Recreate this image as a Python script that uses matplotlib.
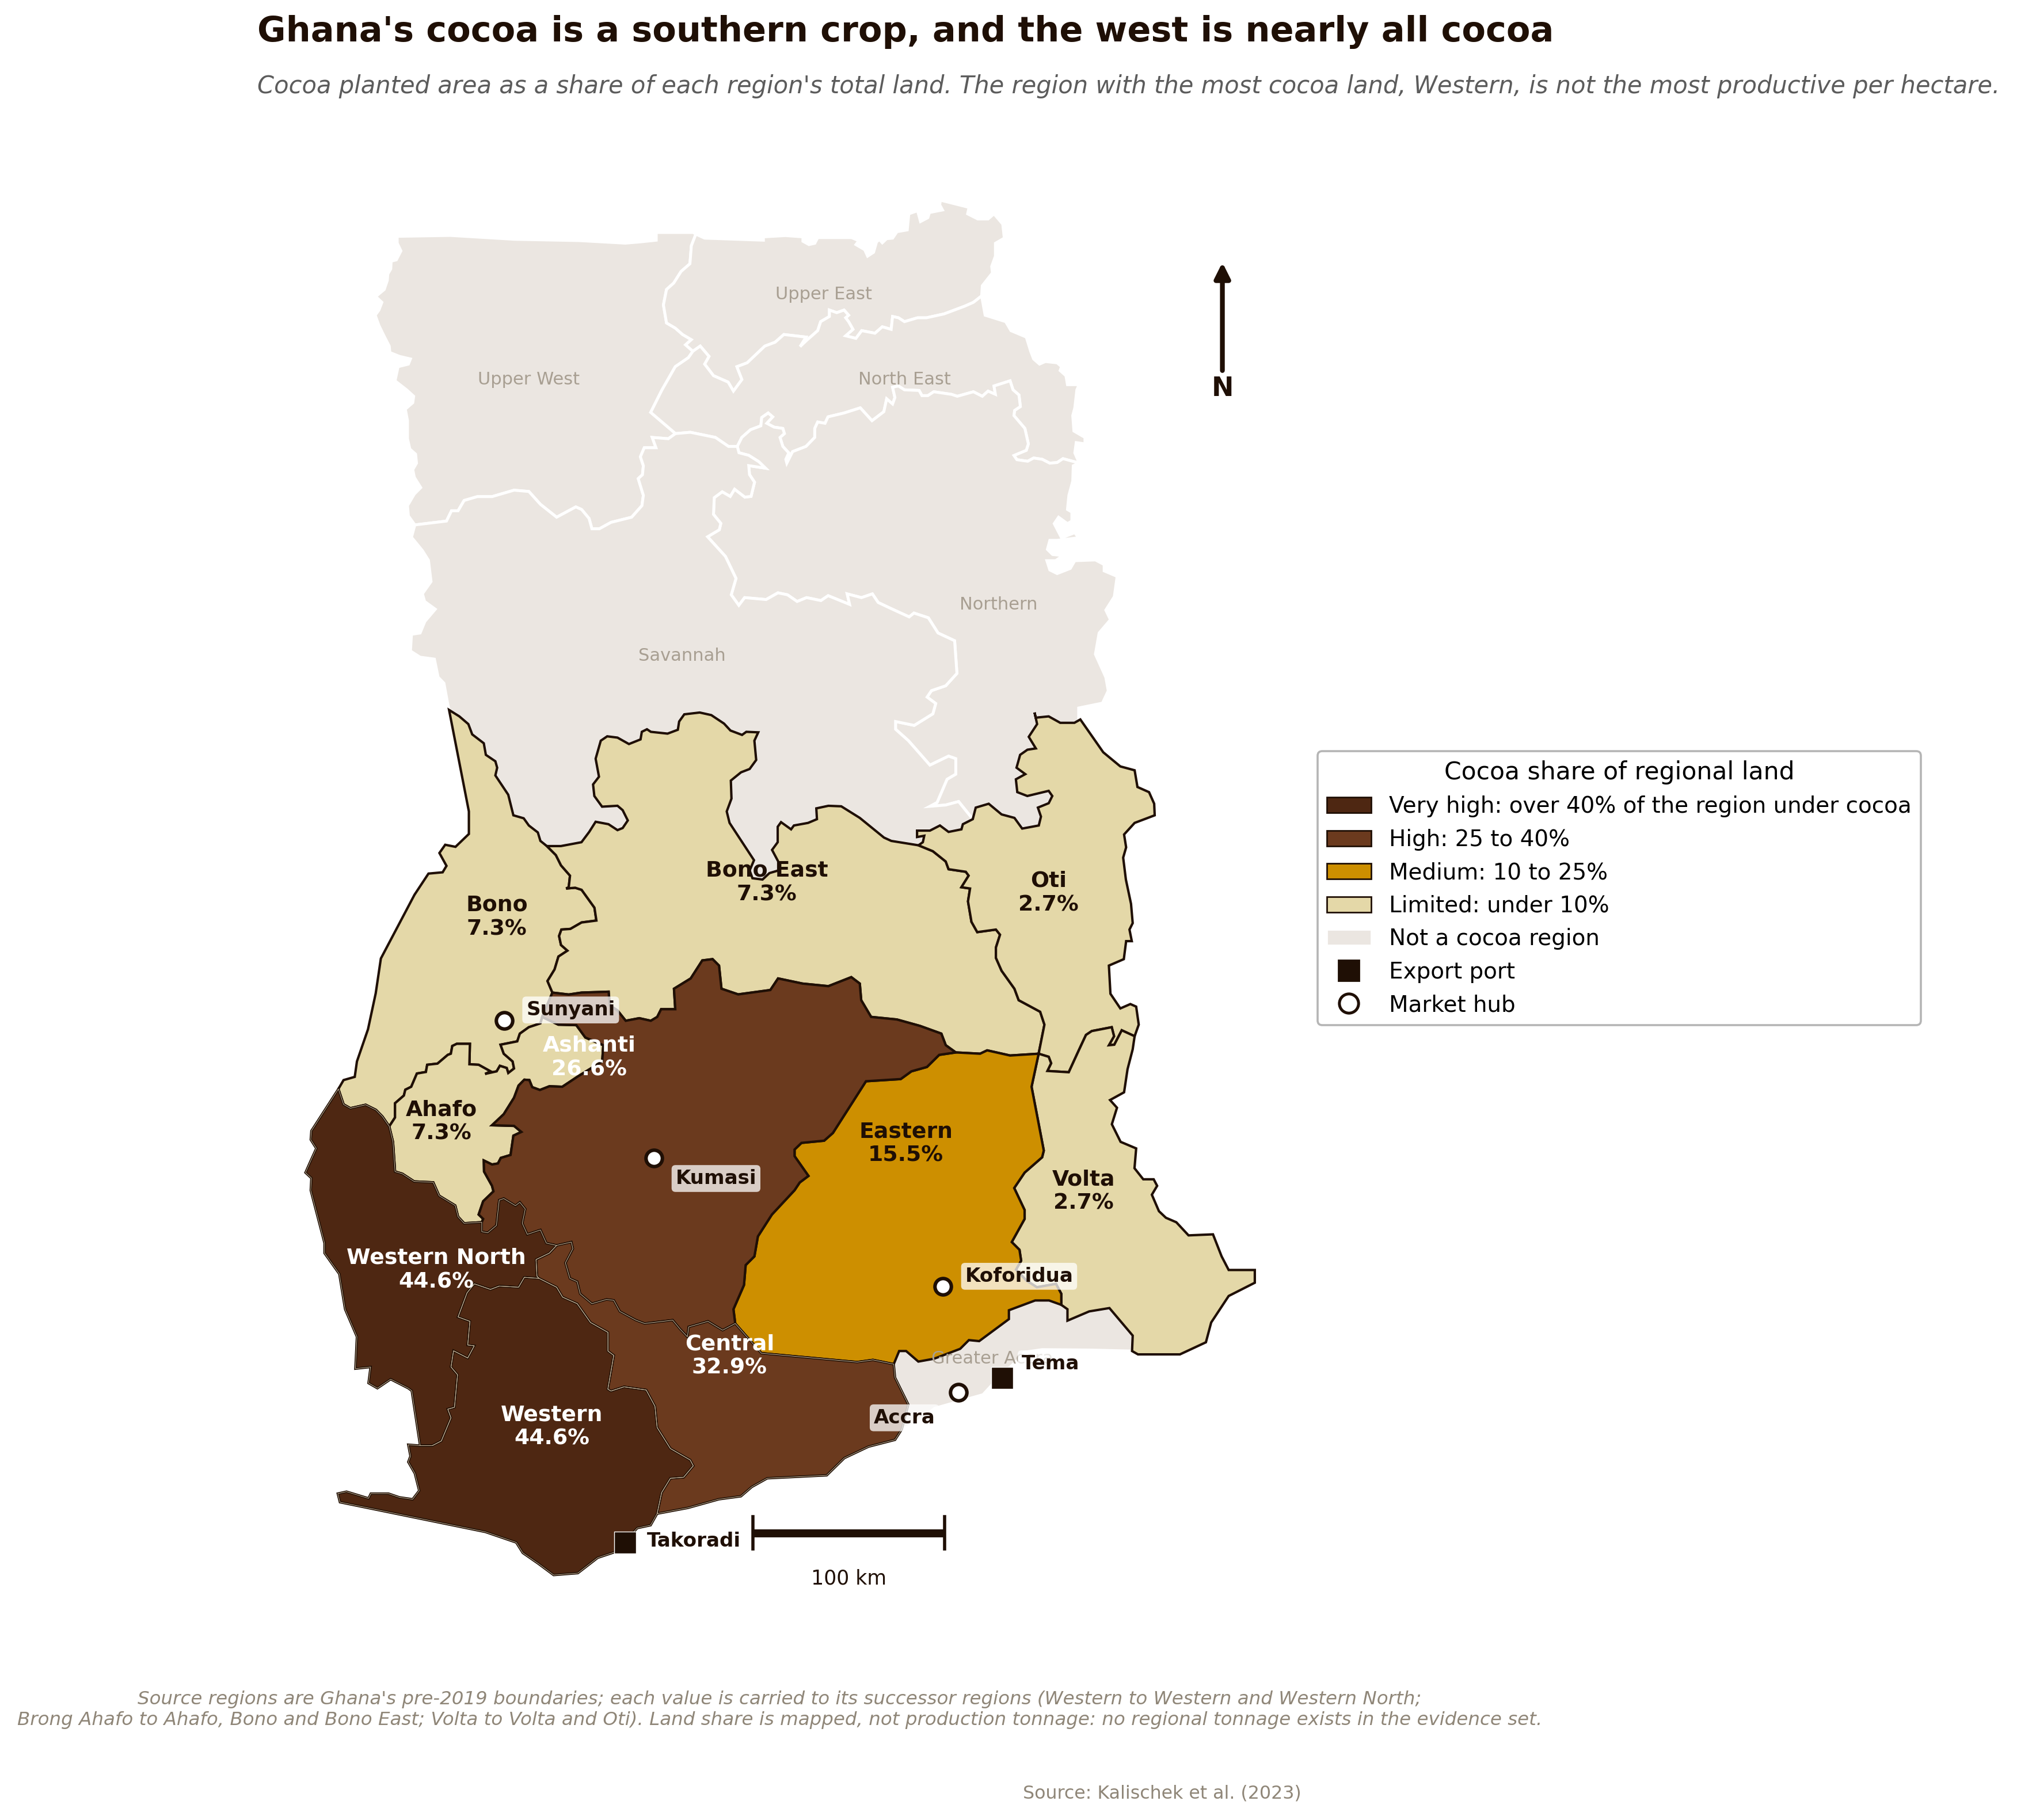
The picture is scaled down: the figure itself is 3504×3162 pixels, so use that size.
import matplotlib
matplotlib.use("Agg")
import matplotlib.pyplot as plt
from matplotlib.patches import Patch, Polygon
from matplotlib.lines import Line2D

# boundary pieces in map units (y grows southward)
uw_outer = [(322.4,408),(317.4,401),(316.7,393),(322,384),(327,379),(322,371),(320.8,365),(323.7,360),(323,353),(318.5,349),(316.7,341),(316.7,327),(315,318),(320.8,313),(321.5,308),(316,303),(307,296),(309.4,285),(317.4,283),(319,279),(310.5,277),(303,274),(302.5,269),(298.4,261),(294.5,253),(291.6,245),(294.5,241),(296.8,235),(292,230.5),(298.6,225),(301,218),(301.4,213),(303.7,209),(304,203),(308,202),(311.6,195),(308.7,189),(308.7,183.7),(350,183),(400,186),(450,187),(486,189),(497.7,188),(510,186.7),(510,180.7),(538.8,180.7)]
uw_ue = [(540.8,182),(537.3,191),(536.2,205),(529.3,211),(523.6,220),(518,225),(515.6,237),(518,251),(524.8,255),(530.5,260),(537.3,264),(532.8,268),(538.5,273)]
uw_ne = [(538.5,273),(535,278),(524.8,285),(514.5,303),(505.7,320.5),(525,337)]
uw_sav = [(525,337),(519.4,341),(506.9,340),(509.8,348),(500.7,348),(497.7,355),(500,362),(499.3,369),(496,372),(500,385),(498.9,393),(490.9,402),(474.9,406),(465.8,411),(460,411),(457.8,403),(452,396),(447.5,394),(432.6,402),(420,392),(411,382),(399.5,381),(382.4,386),(371,386),(360.7,389),(356,397),(350.9,397),(347,405),(322.4,408)]
ue_outer = [(540.8,182),(547.6,185.1),(593.3,186.7),(593.3,184.1),(610.4,183.1),(624,184.1),(624,187.5),(628.7,190.1),(633.2,189.1),(635.5,184.7),(661.8,184.7),(667.5,187.1),(665.2,190.1),(672,194.1),(674.3,199.1),(678.9,196.1),(681.2,188.1),(683.4,186.1),(685.7,188.7),(689.1,185.5),(693.7,185.1),(697.1,180.1),(705.1,178.7),(706.3,166.2),(713.1,163.8),(715.4,172.2),(721.1,169.2),(722.3,165.2),(732.5,163.2),(730.3,159.2),(730.9,155.6),(753.1,161.2),(752,166.2),(759.9,170.2),(767.9,170.2),(772.5,166.2),(779.3,174.2),(780.5,185.1),(773.6,189.1),(773.6,199.1),(770.7,207.1),(771.3,212.1),(763.4,222.1),(762.9,230)]
ue_ne = [(762.9,230),(756.5,235),(749.7,238),(733.7,244),(720,247),(713.1,247),(702.9,250),(698.3,247),(693.7,246),(692.6,256),(685.7,254),(680,259),(669.7,257),(665.2,263),(657.2,261),(662.9,256),(659.5,250),(657.2,247),(659.5,245),(656,241),(650.3,243),(644.6,241),(644.6,246),(637.8,250),(635.5,257),(626.4,265),(621.8,269.4),(626.4,262),(609.2,260),(602.4,266),(594.4,269),(580.7,282),(572.7,285),(576.6,295),(570,304),(565.9,297),(554.5,292),(547.6,283),(551,277),(544.2,269),(538.5,273)]
ne_outer = [(762.9,230),(765.6,245),(781.6,250),(785.7,257),(797.6,262),(801,273),(803.3,279),(807.9,283),(812.4,281),(821.6,282),(825,285),(823.9,288),(828.4,292),(829.6,299),(838.7,299),(836.9,303),(835.3,317),(833.7,323),(834.6,335),(843.2,340),(843.2,345),(836.4,344),(835.3,352),(838.7,359.9)]
ne_nor = [(573,347),(576.5,340),(583.3,334),(591.3,331),(592,324.5),(597,321),(600.5,324),(595.9,329),(601.6,332),(608.4,333),(609.6,337),(606.2,340),(608.4,347),(613,352),(610.7,357),(611.5,360),(616,351),(626.4,347),(633.2,340),(633.2,333),(635.5,328),(641.2,329),(643.5,324),(656,321),(668.6,317),(677.7,327),(686.9,320),(689.1,310),(693.7,314),(695.5,309),(693.7,301),(698.3,300),(702.9,303),(714.3,303.5),(716.5,307.5),(721.1,307.5),(725.7,304.5),(739.4,306.5),(744,308),(756.5,304.5),(763.4,308),(767.9,304),(773.6,306.5),(772.5,300),(785,296),(787.3,303),(791.9,307),(793,316),(788.5,319),(788,323),(796.5,333),(799.2,345),(797.6,350),(788,354),(790.3,357.3),(798.7,358.5),(803.3,356),(810,357),(815.8,360),(821.6,359.5),(826.1,356.5),(838.7,359.9)]
ne_sav = [(525,337),(536.5,336),(556,340),(566.2,347),(573,347)]
nor_outer = [(838.7,359.9),(834.1,362),(833.7,374),(830.7,385),(829.6,396),(833,398),(833,405),(829.6,407),(822.7,402),(819.3,407),(825,418),(835.3,414),(838.2,418),(821.6,420),(815.9,420),(814,427),(818.1,431),(826.1,431.8),(820.4,435.8),(813.6,435.8),(815.9,443),(821.6,445.8),(831.8,441.8),(835.3,435.8),(851.3,435.2),(858.1,438.8),(858.1,443.7),(868.2,448),(866,463.8),(859.4,474.2),(863,481.7),(854.2,492),(851.3,508.5),(859.4,526.4),(861.3,536.9),(856.8,546.5),(838.3,550.3),(838.3,558.5),(839.6,559.2)]
nor_sav = [(573,347),(574.3,351.9),(581.9,353.9),(589.8,358.9),(594.9,363.9),(581.9,361.9),(582.5,368.9),(586.4,374.8),(583.7,385.8),(578.9,386.4),(570.9,380.2),(567.5,385.8),(561.3,382.2),(555.1,386.8),(554.5,399.8),(560.2,406.8),(559,411.8),(549.9,417.2),(563.8,432.5),(572,449.6),(568.3,462.3),(574.2,470.5),(578.7,464.5),(595.4,466),(604.6,460.8),(612,462.3),(619.5,467.5),(626.9,464.5),(638,466.8),(643.6,463),(660.3,469.8),(658.4,461.6),(669.5,464.5),(678,461.6),(682.5,468.3),(691.8,472.7),(706.6,479.5),(710.3,476.5),(721.5,480.2),(729,492),(741.9,498),(743.7,523.4),(735,533),(723.9,536.8),(720.5,541.8),(727.2,546.8),(725,554.8),(710.5,563.8),(696,560.8),(696,566.8),(706,575.7),(722.7,594.7),(737.2,587.7),(742.8,589.7),(742.8,601.7),(736,605.7),(728.3,623.7),(722.7,626.7),(735,625.7),(745,623),(756,636.7)]
oti_top_a = [(839.6,559.2),(835,561.8),(824,561.8),(815,556.8),(805,557.8),(804,553.8),(806,562.8),(799.5,572.7),(805,581.7),(798.5,582.7),(792.8,586.7),(790,596.7),(796.8,601.7),(789.5,605.7),(790.6,615.7),(798.4,618.7),(815,614.7),(817.8,618.7),(815,624.3),(806.6,627.7),(809,634.7),(807.3,641.6),(794.4,644),(788.4,635.7),(778.4,633),(768.4,624.7),(758.3,627.7),(756,636.7)]
oti_top_b = [(756,636.7),(748.3,640.6),(747.2,644.6),(737.2,646.6),(730.5,641.6),(722.7,645.6),(712.7,645.6),(712.7,650.6),(718.3,649.6),(717.2,654.6),(713.8,657)]
oti_be = [(713.8,657),(725,661.6),(735,669.6),(737.2,675.6),(750.6,677.6),(752.8,680.6),(747.2,689.6),(753.9,690.6),(752.3,700.6),(755,716.5),(759.5,724.5),(774,722.5),(777.2,726.5),(774,736.5),(774,744.5),(778.4,754.5),(788.4,768.5),(791.7,777.4),(808.4,786.4),(811.7,796.4),(807.2,819)]
oti_volta = [(807.2,819),(815,821.4),(816.9,826.4),(814,832.4),(830.6,833.4),(838.4,816.4),(844,804.4),(848.5,801.4),(864,798.4),(865.8,805.4),(861.8,812.4),(866,812),(871.8,800.8),(881.8,805.4)]
oti_east = [(881.8,805.4),(885,796.4),(883,782.4),(878.5,780.4),(870.7,783.8),(863,772.4),(861.8,750.5),(873.4,745.5),(875.2,731.5),(879.6,731.5),(877.8,722.5),(880.3,717.5),(879,702.5),(875,683.6),(872.9,666.6),(875.2,658.6),(873.6,648.6),(881.8,639.6),(897.4,633.7),(897,624.7),(893,615.7),(884,611.7),(881.8,598.7),(870.7,595.7),(857.4,584.7),(839.6,559.2)]
sav_west = [(322.4,408),(319.8,417.6),(328.3,428),(333,435.5),(335,452),(328.3,461.5),(330,467.5),(338.3,473.5),(330.2,483),(326.5,492),(319.8,493),(319,506),(326.5,510.8),(337.6,512.3),(340.5,526.4),(345,531),(348,547.3),(349,551.8)]
bono_sav = [(349,551.8),(357,556.8),(364,562.8),(367,570.8),(376,577.7),(377.6,586.7),(385,591.7),(386.4,596.7),(385,602.7),(395,617.7),(399,633.7),(407,636),(411,641.6),(418,647),(420,653.6),(425,657.6)]
be_top = [(425,657.6),(435.9,657.6),(451.9,654.6),(457.9,646.6),(462.9,638.7),(472.9,640.6),(479.9,645.2),(483.9,643.6),(487.9,637.7),(483.9,629.7),(479.9,626.3),(467.9,627),(461.9,618.7),(460.9,609.7),(465.5,603.7),(462.9,589.7),(466.9,575.7),(471.9,572.3),(479.9,573.3),(488.8,578.3),(497.8,574.7),(498.8,568.8),(502.8,566.8),(505.8,568.8),(518.8,570.2),(526.8,567.2),(527.8,560.8),(531.8,555.2),(543.8,553.8),(552.8,555.8),(562.7,562.4),(567.7,567.8),(576.7,571.2),(580,568.8),(589.3,569.2),(586.3,575.7),(587.7,590.7),(582.6,597.7),(575.9,600.3),(568,606.7),(568.5,620.7),(564.8,630.7),(567,639.6),(586,668.6),(582.6,676.6),(584.8,682.6),(592.6,683.6),(598,678.6),(604.8,676.6),(604.8,669.6),(600,660.6),(604.4,654.6),(604.4,642.6),(607,639),(614.8,644.6),(617,641.6),(628,639.6),(634.9,636.7),(634.4,628.3),(643.8,626.3),(653.8,626.7),(668.2,635.7),(687,651),(692.7,653.6),(713.8,657)]
bono_be = [(425,657.6),(432,664.6),(436,672.6),(443,680.6),(442,689.6),(440,690.6),(447,690),(452,691.6),(462,705.5),(463.5,715.5),(452,717),(443.3,722),(436.3,722.5),(434.5,727.5),(436,734.5),(441,738.9),(434,743.5),(431,753.5),(425.5,762.5),(429.3,771.5)]
bono_ash = [(429.3,771.5),(421.4,790.4)]
bono_ahafo = [(421.4,790.4),(420,795.4),(411,798.4),(404,803.4),(402,809.4),(389,812),(391.5,819),(398.4,825),(399.5,830.5),(395,834),(393.8,830.1),(388.5,828.4),(386,832.7),(377,834.7),(381.2,832.7),(372,827.6),(364.8,827.2),(365.2,811.3),(355,811.3),(351.5,813),(350.4,819),(348,819.9),(340,826.7),(332,827.6),(331,833.2),(324,834.4),(319.6,844.7),(315,847),(313.9,851.5),(307,857.5),(307,868.6),(302.5,875.5)]
bono_wn = [(302.5,875.5),(297.2,867.8),(292.2,862.7),(284.2,858.7),(272.3,861.4),(267,858.4),(263,846.4)]
bono_west = [(263,846.4),(267,839.5),(275.7,837),(277.4,825),(286,800),(292,772),(296,745),(322.1,695.5),(333,679),(344,678),(347,673),(341.5,663),(346,656.6),(354,658.2),(364.4,648.2),(364.4,630.7),(349,551.8)]
ahafo_ash = [(421.4,790.4),(433.9,796.4),(447.9,796.8),(454.9,806.4),(468.9,812.4),(468,825),(448.6,837),(437,844.7),(427,844.3),(419.6,847.2),(413.6,845),(411.4,839.5),(407.5,839.2),(403,843.8),(399.5,853.2),(391.5,866),(382.4,874.6),(399.5,875.1),(405.2,879.8),(399,882.7),(396.8,897.7),(389.2,900),(387,904.3),(382.4,905.1),(376,902),(376.2,910.6),(382.4,921.7),(383.5,926),(375.5,933.7),(372,944),(375.5,947.4),(374.4,950)]
ahafo_wn = [(374.4,950),(360.7,950.8),(356,945.7),(353.8,937),(341.3,929.4),(336.7,919),(321.9,918.3),(312.7,912.3),(307,910.6),(305.4,887.5),(302.5,875.5)]
ash_top = [(429.3,771.5),(442,773),(452,771.5),(473,770.8),(473.9,781.4),(479.9,785.4),(486.3,793.4),(496.8,791.4),(505.8,793.4),(510.8,790.4),(513.8,784.4),(524.8,784.4),(523.8,768.5),(536.8,760.5),(545.8,746.5),(553.8,745.5),(558.8,750.5),(560.7,768.5),(573.7,772.9),(598.7,769.5),(604.7,760.5),(623.7,764.5),(643.8,766.5),(661.6,759.5),(668.2,764.5),(669.3,777.4),(677,790.4),(697,792.4),(715,797.4),(731.6,803.4),(735,812.4),(742.8,818)]
ash_east = [(742.8,818),(729.9,819.9),(720.4,829.3),(708.3,832.7),(700,838.7),(673,840.4),(647.3,880.6),(640.5,886.6),(622.9,888.3),(617.5,893.5),(617.5,898.6),(628.3,914),(621.5,919.1),(617.5,925.1),(599.9,944),(589,961),(586.3,976.5),(579.5,983.3),(578.2,998.8),(570,1017.6),(571.4,1028.7)]
ash_central = [(571.4,1028.7),(561.6,1033.9),(550.2,1027),(535.3,1031.3),(534.2,1039),(528.5,1033),(522.8,1026.1),(501,1028.7),(494.2,1026.1),(481.7,1019.3),(477,1010.7),(471.4,1010),(460,1013.3),(450.9,1005.6),(448.6,996.2),(442.9,993.6),(439.4,981.6),(445.2,970.5),(444,965.4),(432.6,968)]
ash_wn = [(432.6,968),(424.6,966.2),(420,956),(409.8,959.4),(405.9,950.8),(408.2,939.7),(404,934.5),(400.6,937.1),(391.5,931.6),(388,932.8),(385.8,952.5),(379,958.2),(374.4,957.3),(374.4,950)]
wn_central = [(418.9,993.6),(417.3,991.9),(416.6,979),(426.9,974),(432.6,968)]
wn_western = [(418.9,993.6),(407.5,992.8),(403,1000.5),(388,999.6),(381.2,1002.2),(368.7,997.9),(363,1004.8),(356,1023.6),(365.2,1027),(363.5,1045.4),(368.6,1046),(363.5,1055.5),(352.5,1049.9),(350.5,1062.5),(355.6,1068.5),(353.2,1093.8),(348,1095.3),(350.5,1102),(343,1120),(336,1123.6),(326.5,1123.6)]
wn_outer = [(326.5,1123.6),(320,1081),(317.3,1079),(303.6,1072),(293.3,1079),(286.4,1075),(288,1062.5),(276.2,1063.8),(277.4,1039),(268.2,1017.6),(263.7,990.2),(252.2,974),(252.2,966.2),(241.5,925.2),(242,915.7),(237.4,911.4),(240.8,903.7),(245.8,892.6),(241.5,885.8),(242,879),(263,846.4)]
western_coast = [(510.7,1176.5),(505.6,1185.5),(495.3,1187.7),(478,1206.3),(464.5,1210.8),(449.1,1222.7),(430.3,1224.2),(418.3,1215.3),(406.3,1207),(401.2,1198.9),(377.2,1190.7),(264.2,1167.6),(262.5,1160.9),(269.3,1159.4),(286.4,1164.6),(288.2,1160.9),(301.9,1160.9),(310.4,1163.8),(320.7,1165.3),(325.8,1158.6),(322.4,1145.2),(317.3,1136.3),(319,1131.8),(317.3,1122.9),(326.5,1123.6)]
western_central = [(510.7,1176.5),(514.2,1160.1),(521,1149),(531.3,1148.2),(538.8,1139.3),(536.4,1134.8),(521,1125.9),(510.7,1109.5),(509,1093),(502.2,1080.4),(485,1077.9),(474.8,1081.2),(472.4,1079.7),(477,1053.5),(472.5,1050.1),(472.5,1035.6),(458.9,1027.9),(448.6,1013.3),(437.2,1008.2),(432.6,1000.5),(418.9,993.6)]
central_coast = [(700.8,1111),(695.6,1119.1),(675,1124.4),(656.2,1133.3),(642.5,1146.7),(596.3,1149),(584.3,1155.7),(575.8,1163),(558.7,1165.3),(534.7,1172),(510.7,1176.5)]
central_ga = [(694.6,1060.3),(695.6,1070.7),(705.9,1091.6),(700.8,1111)]
central_east = [(571.4,1028.7),(591.7,1051.8),(666.2,1058.7),(678.4,1057),(694.6,1060.3)]
be_eastern = [(742.8,818),(761.7,819),(767.2,816.4),(785,820.4),(807.2,819)]
east_volta = [(807.2,819),(801.7,844.7),(811.2,894.3),(809.9,899.5),(796.3,911.4),(788.2,923.4),(796.3,940.5),(796.3,947.4),(786.3,965.4),(792.3,971.4),(793.6,979.9),(789.6,986.8),(797.7,995.3),(805.8,1000.5),(820.7,997.9),(824.8,1005.6),(824.8,1014.2)]
east_ga = [(824.8,1014.2),(815.3,1010.8),(804.5,1010.8),(784.1,1018.4),(784.1,1025.3),(761,1042.4),(753,1041.6),(746.2,1048.4),(725.9,1056.1),(713.7,1058.3),(704.2,1050.1),(698.8,1050.1),(694.6,1060.3)]
volta_ga = [(824.8,1014.2),(829.6,1017.6),(829.6,1026.5),(846.5,1019.3),(862.2,1016.7),(880.3,1038.1),(879.8,1050.1)]
volta_east = [(881.8,805.4),(880.3,815.6),(876.3,831),(873.6,849),(862.7,855),(868.1,861),(864.1,873.8),(870.9,887.5),(883,892.6),(881.7,908),(888.5,916.6),(896.6,916.6),(899.3,921.7),(895.2,928.6),(900.7,941.4),(906.1,946.5),(914.2,950),(923.7,960.2),(942.7,959.4),(949.4,976.5),(954.9,987.1),(975.2,987.1),(975.2,997),(954.9,1007.3),(941.3,1027.9),(937.2,1043.3),(917,1052.7),(884.4,1052.7),(879.8,1050.1)]
ga_coast = [(879.8,1050.1),(846.5,1049.3),(810,1049),(796,1051),(790,1058),(775,1072),(764,1084),(726.4,1094.6),(711,1106.5),(700.8,1111)]


def rev(seg):
    return seg[::-1]


# name -> outline, share of land (None for non-cocoa regions)
regions = {
    "Upper West": (uw_outer + uw_ue + uw_ne + uw_sav, None),
    "Upper East": (ue_outer + ue_ne + rev(uw_ue), None),
    "North East": (rev(ue_ne) + ne_outer + rev(ne_nor) + rev(ne_sav) + rev(uw_ne), None),
    "Northern": (ne_nor + nor_outer + oti_top_a + rev(nor_sav), None),
    "Savannah": (sav_west + bono_sav + be_top + rev(oti_top_b) + rev(nor_sav) + rev(ne_sav) + uw_sav, None),
    "Greater Accra": (volta_ga + ga_coast + rev(central_ga) + rev(east_ga), None),
    "Bono": (bono_sav + bono_be + bono_ash + bono_ahafo + bono_wn + bono_west, 7.3),
    "Bono East": (be_top + oti_be + rev(be_eastern) + rev(ash_top) + rev(bono_be), 7.3),
    "Ahafo": (rev(bono_ahafo) + ahafo_ash + ahafo_wn, 7.3),
    "Oti": (oti_top_a + oti_top_b + oti_be + oti_volta + oti_east, 2.7),
    "Volta": (oti_volta + volta_east + rev(volta_ga) + rev(east_volta), 2.7),
    "Eastern": (be_eastern + east_volta + east_ga + rev(central_east) + rev(ash_east), 15.5),
    "Ashanti": (ash_top + ash_east + ash_central + ash_wn + rev(ahafo_ash) + rev(bono_ash), 26.6),
    "Central": (rev(ash_central) + central_east + central_ga + central_coast + western_central + wn_central, 32.9),
    "Western North": (rev(bono_wn) + rev(ahafo_wn) + rev(ash_wn) + rev(wn_central) + wn_western + wn_outer, 44.6),
    "Western": (rev(wn_western) + rev(western_central) + western_coast, 44.6),
}

label_pos = {
    "Upper West": (411, 295), "Upper East": (640, 229), "North East": (703, 295),
    "Northern": (776, 470), "Savannah": (530, 510), "Greater Accra": (771, 1056),
    "Bono": (386, 713), "Bono East": (596, 686), "Ahafo": (343, 872), "Oti": (815, 694),
    "Volta": (842, 926), "Eastern": (704, 889), "Ashanti": (458, 822),
    "Central": (567, 1054), "Western North": (339, 987), "Western": (429, 1109),
}

ports = ["Takoradi", "Tema"]
port_x = [486, 779]
port_y = [1199, 1071]
port_lx = [503, 794]
port_ly = [1198, 1060]

hubs = ["Sunyani", "Kumasi", "Koforidua", "Accra"]
hub_x = [392, 508, 733, 745]
hub_y = [793, 900, 1000, 1082]
hub_lx = [409, 525, 750, 679]
hub_ly = [785, 916, 992, 1102]

INK = "#1f0f05"
NO_COCOA = "#ebe6e1"
bin_labels = ["Very high: over 40% of the region under cocoa", "High: 25 to 40%",
              "Medium: 10 to 25%", "Limited: under 10%"]
bin_colors = ["#4e2712", "#6b3a1e", "#cd8f00", "#e4d8a8"]


def share_color(v):
    if v > 40:
        return bin_colors[0]
    if v > 25:
        return bin_colors[1]
    if v > 10:
        return bin_colors[2]
    return bin_colors[3]


fig = plt.figure(figsize=(17.525, 15.81), dpi=200)
ax = fig.add_axes([0, 0, 1, 1])
ax.set_xlim(0, 1568)
ax.set_ylim(1414.6, 0)
ax.axis("off")

# grey regions first so the dark outlines sit on top
for name, (outline, share) in regions.items():
    if share is None:
        ax.add_patch(Polygon(outline, closed=True, fc=NO_COCOA, ec="white", lw=1.8, zorder=1))
for name, (outline, share) in regions.items():
    if share is not None:
        ax.add_patch(Polygon(outline, closed=True, fc=share_color(share), ec=INK, lw=1.5, zorder=2))
# the darkest fills carry a thin pale hairline along their edges
for name, (outline, share) in regions.items():
    if share is not None and share > 30:
        ax.add_patch(Polygon(outline, closed=True, fc="none", ec="#c9b79c", lw=0.35, zorder=2))

for name, (outline, share) in regions.items():
    x, y = label_pos[name]
    if share is None:
        ax.text(x, y, name, ha="center", va="center", fontsize=11, color="#a89f92", zorder=3)
    else:
        c = "white" if share > 25 else INK
        ax.text(x, y, f"{name}\n{share}%", ha="center", va="center", fontsize=13.6,
                fontweight="bold", color=c, zorder=4, linespacing=1.2)

city_box = dict(boxstyle="round,pad=0.2", fc="white", ec="none", alpha=0.75)
ax.scatter(port_x, port_y, marker="s", s=190, color=INK, edgecolor="white", lw=0.5, zorder=6)
for n, x, y in zip(ports, port_lx, port_ly):
    ax.text(x, y, n, ha="left", va="center", fontsize=12.3, fontweight="bold", color=INK,
            bbox=city_box, zorder=5)
ax.scatter(hub_x, hub_y, marker="o", s=105, color="white", edgecolor=INK, lw=2.2, zorder=6)
for n, x, y in zip(hubs, hub_lx, hub_ly):
    ax.text(x, y, n, ha="left", va="center", fontsize=12.3, fontweight="bold", color=INK,
            bbox=city_box, zorder=5)

# north arrow
ax.annotate("", xy=(950, 204), xytext=(950, 288),
            arrowprops=dict(arrowstyle="-|>", color=INK, lw=3, mutation_scale=20, shrinkA=0, shrinkB=0))
ax.text(950, 302, "N", ha="center", va="center", fontsize=16.5, fontweight="bold", color=INK)

# scale bar
ax.plot([585, 734], [1192, 1192], color=INK, lw=5, solid_capstyle="butt", zorder=3)
ax.plot([585, 585], [1179, 1204], color=INK, lw=2, zorder=3)
ax.plot([734, 734], [1179, 1204], color=INK, lw=2, zorder=3)
ax.text(659.5, 1227, "100 km", ha="center", va="center", fontsize=12.5, color=INK)

ax.text(200, 25, "Ghana's cocoa is a southern crop, and the west is nearly all cocoa",
        ha="left", va="center", fontsize=21.8, fontweight="bold", color=INK)
ax.text(200, 67, "Cocoa planted area as a share of each region's total land. The region with the most cocoa land, Western, is not the most productive per hectare.",
        ha="left", va="center", fontsize=15, style="italic", color="#5c5c5c")
ax.text(606, 1329, "Source regions are Ghana's pre-2019 boundaries; each value is carried to its successor regions (Western to Western and Western North;\n"
        "Brong Ahafo to Ahafo, Bono and Bono East; Volta to Volta and Oti). Land share is mapped, not production tonnage: no regional tonnage exists in the evidence set.",
        ha="center", va="center", fontsize=11.7, style="italic", color="#8f8678", linespacing=1.2)
ax.text(903, 1394, "Source: Kalischek et al. (2023)", ha="center", va="center", fontsize=11.4, color="#8f8678")

handles = [Patch(fc=c, ec=INK, label=l) for c, l in zip(bin_colors, bin_labels)]
handles.append(Patch(fc=NO_COCOA, ec="white", label="Not a cocoa region"))
handles.append(Line2D([], [], ls="none", marker="s", ms=13, color=INK, label="Export port"))
handles.append(Line2D([], [], ls="none", marker="o", ms=12, mfc="white", mec=INK, mew=1.8, label="Market hub"))
leg = ax.legend(handles=handles, title="Cocoa share of regional land", loc="upper left",
                bbox_to_anchor=(1024 / 1568, 1 - 584 / 1414.6), bbox_transform=fig.transFigure,
                borderaxespad=0, fontsize=14, title_fontsize=15.3, frameon=True)
leg.get_frame().set_edgecolor("#b5b5b5")
leg.get_frame().set_linewidth(1.3)
leg.get_frame().set_alpha(1)

fig.savefig("out.png", dpi=200)
